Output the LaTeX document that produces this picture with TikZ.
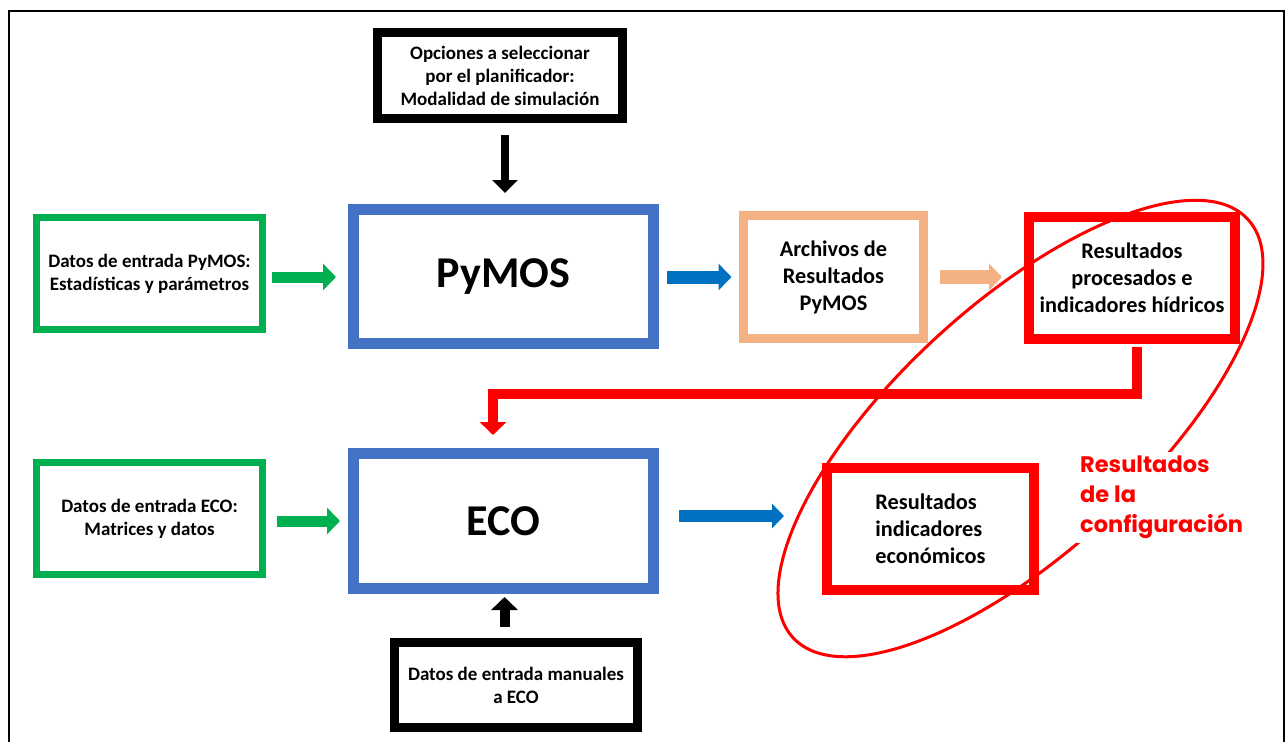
\documentclass[tikz,border=0pt]{standalone}
\usepackage{fontspec}
\setmainfont{Carlito}
\newfontfamily\popfont{Poppins}
\usetikzlibrary{arrows.meta}
\definecolor{boxblue}{HTML}{4472C4}
\definecolor{arrblue}{HTML}{0070C0}
\definecolor{grn}{HTML}{00B050}
\definecolor{peach}{HTML}{F4B183}
\definecolor{rd}{HTML}{FF0000}
\begin{document}
\begin{tikzpicture}[x=1pt,y=-1pt,
  box/.style={draw, inner sep=0pt, outer sep=0pt, align=center, text=black},
  small/.style={font=\bfseries\fontsize{19}{23}\selectfont},
  mid/.style={font=\bfseries\fontsize{22.3}{27}\selectfont},
  big/.style={font=\bfseries\fontsize{44}{50}\selectfont},
  blackbox/.style={box, small, line width=9pt, minimum width=245pt, minimum height=86pt},
  greenbox/.style={box, small, draw=grn, line width=7pt, minimum width=226pt, minimum height=112pt},
  bluebox/.style={box, big, draw=boxblue, line width=11pt, minimum width=300pt, minimum height=134pt},
  peachbox/.style={box, mid, draw=peach, line width=9pt, minimum width=180pt, minimum height=123pt},
  redbox/.style={box, mid, draw=rd, line width=10pt, minimum width=206pt, minimum height=122pt},
  blockarr/.style={-{Triangle[width=26pt,length=13pt]}}
]
\useasboundingbox (0,0) rectangle (1286,742);
\fill[white] (0,0) rectangle (1286,742);
\draw[line width=2pt] (8.5,742) -- (8.5,11) -- (1284,11) -- (1284,742);

% boxes
\node[blackbox] (top) at (500,75.5) {Opciones a seleccionar\\por el planificador:\\Modalidad de simulación};
\node[bluebox] (pymos) at (503.5,276.5) {PyMOS};
\node[greenbox] (g1) at (149.5,273.5) {Datos de entrada PyMOS:\\Estadísticas y parámetros};
\node[greenbox] (g2) at (149.5,518.5) {Datos de entrada ECO:\\Matrices y datos};
\node[peachbox] (peachb) at (833.5,277) {Archivos de\\Resultados\\PyMOS};
\node[redbox] (red1) at (1132,278) {Resultados\\procesados e\\indicadores hídricos};
\node[bluebox, minimum height=135pt] (eco) at (503.5,521) {ECO};
\node[redbox, minimum width=207pt, align=left] (red2) at (930.5,529) {Resultados\\indicadores\\económicos};
\node[blackbox, minimum width=243pt, minimum height=85pt] (bot) at (516,685) {Datos de entrada manuales\\a ECO};

% helper coordinates for arrow rows
\coordinate (ya) at (0,277);
\coordinate (yb) at (0,521);
\coordinate (yc) at (0,516);
\coordinate (xa) at (505,0);
\coordinate (xb) at (504.5,0);
\coordinate (rc1) at (1137,394);
\coordinate (rc2) at (493,394);

% arrows
\draw[black, line width=8pt, -{Triangle[width=25pt,length=13pt]}, shorten <=16.5pt, shorten >=16.5pt]
  (top.south -| xa) -- (pymos.north -| xa);
\draw[blockarr, grn, line width=11pt, shorten <=9.5pt, shorten >=17.5pt]
  (g1.east |- ya) -- (pymos.west |- ya);
\draw[blockarr, grn, line width=11pt, shorten <=14.5pt, shorten >=13.5pt]
  (g2.east |- yb) -- (eco.west |- yb);
\draw[blockarr, arrblue, line width=13pt, shorten <=13.5pt, shorten >=12pt]
  (pymos.east |- ya) -- (peachb.west |- ya);
\draw[blockarr, peach, line width=14pt, shorten <=16.5pt, shorten >=27pt]
  (peachb.east |- ya) -- (red1.west |- ya);
\draw[arrblue, line width=12pt, shorten <=25.5pt, shorten >=43pt, -{Triangle[width=24pt,length=12pt]}]
  (eco.east |- yc) -- (red2.west |- yc);
\draw[blockarr, rd, line width=10pt, shorten <=8pt, shorten >=18.5pt]
  (red1.south -| rc1) -- (rc1) -- (rc2) -- (eco.north -| rc2);
\draw[blockarr, black, line width=10pt, shorten <=15.5pt, shorten >=8.5pt]
  (bot.north -| xb) -- (eco.south -| xb);

% ellipse
\coordinate (ellc) at (1020.5,428.5);
\draw[rd, line width=3pt, rotate around={42.6:(ellc)}] (ellc) ellipse [x radius=309pt, y radius=124pt];

% label
\node[fill=white, inner sep=4pt, anchor=north west, align=left, text=rd,
  font=\popfont\bfseries\fontsize{22.5}{30}\selectfont] (lab) at (1076,452) {Resultados\\de la\\configuración};
\end{tikzpicture}
\end{document}
